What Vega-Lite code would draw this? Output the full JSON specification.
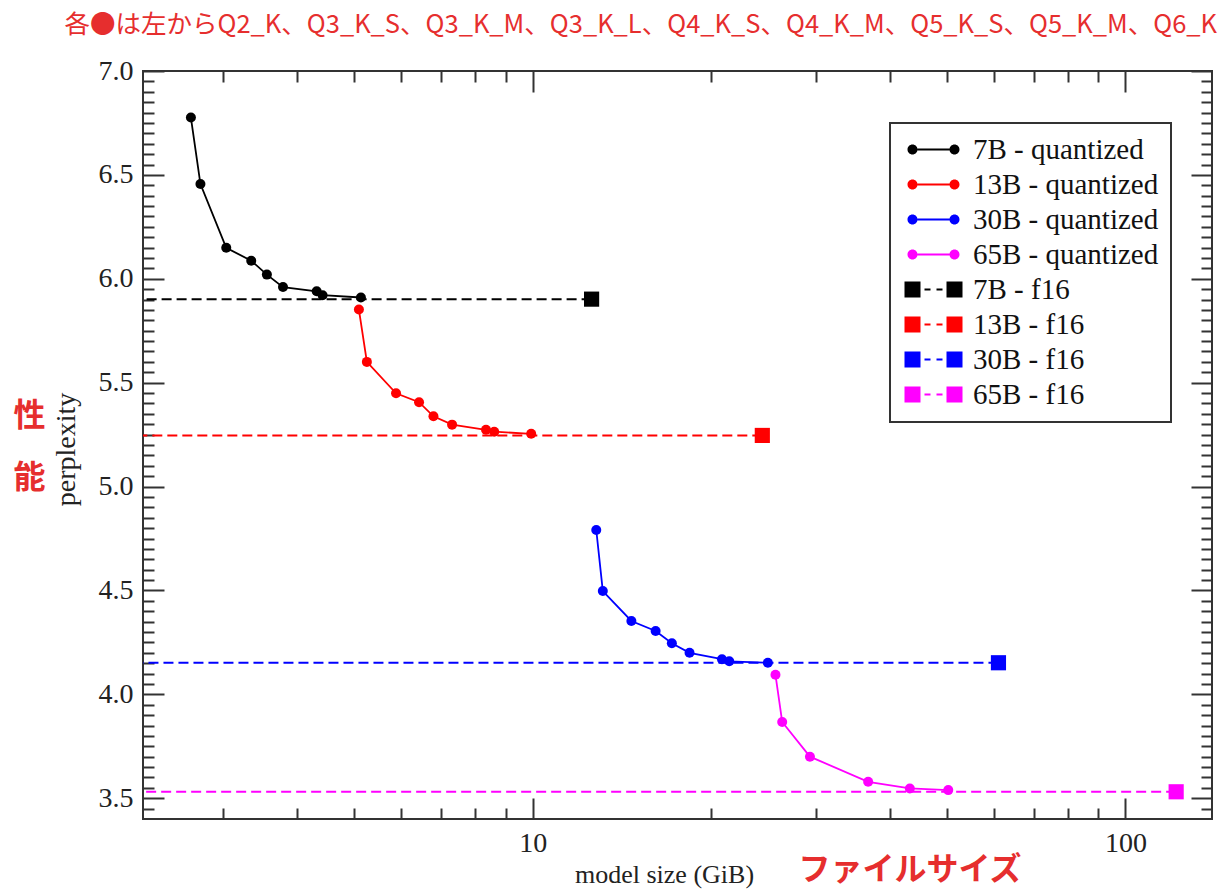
{
  "$schema": "https://vega.github.io/schema/vega-lite/v6.json",
  "width": 1069,
  "height": 748,
  "autosize": "none",
  "padding": {"left": 143, "top": 71, "right": 8, "bottom": 70},
  "background": "white",
  "config": {
    "view": {"stroke": "#333333", "strokeWidth": 2},
    "legend": {"strokeWidth": 2},
    "axis": {
      "domain": false,
      "grid": false,
      "tickColor": "#333333",
      "tickWidth": 2,
      "labelFont": "Liberation Serif",
      "labelFontSize": 28,
      "labelColor": "#222222",
      "labelFlush": false,
      "labelOverlap": false,
      "titleFont": "Liberation Serif",
      "titleFontWeight": "normal",
      "titleColor": "#222222"
    }
  },
  "data": {
    "values": [
      {"model": "7B", "label": "7B - quantized", "type": "quantized", "quant": "Q2_K", "size": 2.65, "ppl": 6.776},
      {"model": "7B", "label": "7B - quantized", "type": "quantized", "quant": "Q3_K_S", "size": 2.75, "ppl": 6.456},
      {"model": "7B", "label": "7B - quantized", "type": "quantized", "quant": "Q3_K_M", "size": 3.04, "ppl": 6.149},
      {"model": "7B", "label": "7B - quantized", "type": "quantized", "quant": "Q3_K_L", "size": 3.35, "ppl": 6.087},
      {"model": "7B", "label": "7B - quantized", "type": "quantized", "quant": "Q4_K_S", "size": 3.56, "ppl": 6.020},
      {"model": "7B", "label": "7B - quantized", "type": "quantized", "quant": "Q4_K_M", "size": 3.79, "ppl": 5.960},
      {"model": "7B", "label": "7B - quantized", "type": "quantized", "quant": "Q5_K_S", "size": 4.32, "ppl": 5.940},
      {"model": "7B", "label": "7B - quantized", "type": "quantized", "quant": "Q5_K_M", "size": 4.42, "ppl": 5.921},
      {"model": "7B", "label": "7B - quantized", "type": "quantized", "quant": "Q6_K", "size": 5.13, "ppl": 5.910},
      {"model": "13B", "label": "13B - quantized", "type": "quantized", "quant": "Q2_K", "size": 5.09, "ppl": 5.852},
      {"model": "13B", "label": "13B - quantized", "type": "quantized", "quant": "Q3_K_S", "size": 5.25, "ppl": 5.600},
      {"model": "13B", "label": "13B - quantized", "type": "quantized", "quant": "Q3_K_M", "size": 5.88, "ppl": 5.449},
      {"model": "13B", "label": "13B - quantized", "type": "quantized", "quant": "Q3_K_L", "size": 6.43, "ppl": 5.406},
      {"model": "13B", "label": "13B - quantized", "type": "quantized", "quant": "Q4_K_S", "size": 6.80, "ppl": 5.338},
      {"model": "13B", "label": "13B - quantized", "type": "quantized", "quant": "Q4_K_M", "size": 7.31, "ppl": 5.298},
      {"model": "13B", "label": "13B - quantized", "type": "quantized", "quant": "Q5_K_S", "size": 8.34, "ppl": 5.273},
      {"model": "13B", "label": "13B - quantized", "type": "quantized", "quant": "Q5_K_M", "size": 8.61, "ppl": 5.264},
      {"model": "13B", "label": "13B - quantized", "type": "quantized", "quant": "Q6_K", "size": 9.94, "ppl": 5.254},
      {"model": "30B", "label": "30B - quantized", "type": "quantized", "quant": "Q2_K", "size": 12.80, "ppl": 4.791},
      {"model": "30B", "label": "30B - quantized", "type": "quantized", "quant": "Q3_K_S", "size": 13.13, "ppl": 4.497},
      {"model": "30B", "label": "30B - quantized", "type": "quantized", "quant": "Q3_K_M", "size": 14.67, "ppl": 4.353},
      {"model": "30B", "label": "30B - quantized", "type": "quantized", "quant": "Q3_K_L", "size": 16.12, "ppl": 4.305},
      {"model": "30B", "label": "30B - quantized", "type": "quantized", "quant": "Q4_K_S", "size": 17.17, "ppl": 4.246},
      {"model": "30B", "label": "30B - quantized", "type": "quantized", "quant": "Q4_K_M", "size": 18.39, "ppl": 4.200},
      {"model": "30B", "label": "30B - quantized", "type": "quantized", "quant": "Q5_K_S", "size": 20.86, "ppl": 4.169},
      {"model": "30B", "label": "30B - quantized", "type": "quantized", "quant": "Q5_K_M", "size": 21.46, "ppl": 4.159},
      {"model": "30B", "label": "30B - quantized", "type": "quantized", "quant": "Q6_K", "size": 24.93, "ppl": 4.152},
      {"model": "65B", "label": "65B - quantized", "type": "quantized", "quant": "Q2_K", "size": 25.68, "ppl": 4.094},
      {"model": "65B", "label": "65B - quantized", "type": "quantized", "quant": "Q3_K_S", "size": 26.36, "ppl": 3.867},
      {"model": "65B", "label": "65B - quantized", "type": "quantized", "quant": "Q3_K_M", "size": 29.36, "ppl": 3.700},
      {"model": "65B", "label": "65B - quantized", "type": "quantized", "quant": "Q4_K_S", "size": 36.81, "ppl": 3.579},
      {"model": "65B", "label": "65B - quantized", "type": "quantized", "quant": "Q5_K_S", "size": 43.28, "ppl": 3.547},
      {"model": "65B", "label": "65B - quantized", "type": "quantized", "quant": "Q6_K", "size": 50.25, "ppl": 3.539},
      {"model": "7B", "label": "7B - f16", "type": "f16", "quant": "F16", "size": 12.57, "ppl": 5.902},
      {"model": "13B", "label": "13B - f16", "type": "f16", "quant": "F16", "size": 24.4, "ppl": 5.246},
      {"model": "30B", "label": "30B - f16", "type": "f16", "quant": "F16", "size": 61.07, "ppl": 4.152},
      {"model": "65B", "label": "65B - f16", "type": "f16", "quant": "F16", "size": 121.8, "ppl": 3.531}
    ]
  },
  "layer": [
    {
      "transform": [{"filter": "datum.type === 'f16'"}],
      "mark": {"type": "rule", "strokeDash": [10, 5], "strokeWidth": 2},
      "encoding": {
        "x": {
          "field": "size",
          "type": "quantitative",
          "scale": {"type": "log", "domain": [2.2, 140], "nice": false},
          "axis": {
            "orient": "bottom",
            "values": [10, 100],
            "format": "d",
            "tickSize": -21,
            "labelPadding": 31,
            "title": "model size (GiB)",
            "titleFontSize": 26,
            "titleX": 521,
            "titleY": 63,
            "titleAlign": "center",
            "titleBaseline": "alphabetic"
          }
        },
        "x2": {"datum": 2.2},
        "y": {
          "field": "ppl",
          "type": "quantitative",
          "scale": {"domain": [3.4, 7.0], "nice": false, "zero": false},
          "axis": {
            "orient": "left",
            "values": [3.5, 4.0, 4.5, 5.0, 5.5, 6.0, 6.5, 7.0],
            "format": ".1f",
            "tickSize": -21,
            "labelPadding": 31,
            "title": "perplexity",
            "titleFontSize": 28,
            "titleAngle": -90,
            "titleX": -69,
            "titleY": 378,
            "titleAlign": "center",
            "titleBaseline": "alphabetic"
          }
        },
        "color": {
          "field": "model",
          "type": "nominal",
          "scale": {
            "domain": ["7B", "13B", "30B", "65B"],
            "range": ["#000000", "#ff0000", "#0000ff", "#ff00ff"]
          },
          "legend": null
        }
      }
    },
    {
      "transform": [{"filter": "datum.type === 'quantized'"}],
      "mark": {"type": "line", "strokeWidth": 1.8},
      "encoding": {
        "x": {
          "field": "size",
          "type": "quantitative",
          "axis": {
            "orient": "bottom",
            "values": [3, 4, 5, 6, 7, 8, 9, 20, 30, 40, 50, 60, 70, 80, 90],
            "tickSize": -11,
            "labels": false,
            "title": "ファイルサイズ",
            "titleFont": "Noto Sans CJK JP",
            "titleFontSize": 32,
            "titleFontWeight": "bold",
            "titleColor": "#e62e2e",
            "titleX": 655,
            "titleY": 60,
            "titleAlign": "left",
            "titleBaseline": "alphabetic"
          }
        },
        "y": {
          "field": "ppl",
          "type": "quantitative",
          "axis": {
            "orient": "left",
            "values": [3.45,3.55,3.6,3.65,3.7,3.75,3.8,3.85,3.9,3.95,4.05,4.1,4.15,4.2,4.25,4.3,4.35,4.4,4.45,4.55,4.6,4.65,4.7,4.75,4.8,4.85,4.9,4.95,5.05,5.1,5.15,5.2,5.25,5.3,5.35,5.4,5.45,5.55,5.6,5.65,5.7,5.75,5.8,5.85,5.9,5.95,6.05,6.1,6.15,6.2,6.25,6.3,6.35,6.4,6.45,6.55,6.6,6.65,6.7,6.75,6.8,6.85,6.9,6.95],
            "tickSize": -11,
            "labels": false,
            "title": ["性", "能"],
            "titleFont": "Noto Sans CJK JP",
            "titleFontSize": 32,
            "titleFontWeight": "bold",
            "titleColor": "#e62e2e",
            "titleAngle": 0,
            "titleX": -114,
            "titleY": 344,
            "titleAlign": "center",
            "titleBaseline": "middle",
            "titleLineHeight": 62
          }
        },
        "color": {"field": "model", "type": "nominal", "legend": null},
        "order": {"field": "size", "type": "quantitative"}
      }
    },
    {
      "transform": [{"filter": "datum.type === 'quantized'"}],
      "mark": {"type": "point", "filled": true, "size": 100, "opacity": 1},
      "encoding": {
        "x": {"field": "size", "type": "quantitative", "axis": null},
        "y": {"field": "ppl", "type": "quantitative", "axis": null},
        "color": {"field": "model", "type": "nominal", "legend": null}
      }
    },
    {
      "transform": [{"filter": "datum.type === 'f16'"}],
      "mark": {"type": "point", "shape": "square", "filled": true, "size": 230, "opacity": 1},
      "encoding": {
        "x": {
          "field": "size",
          "type": "quantitative",
          "axis": {
            "orient": "top",
            "values": [10, 100],
            "tickSize": -21,
            "labels": false,
            "title": "各●は左からQ2_K、Q3_K_S、Q3_K_M、Q3_K_L、Q4_K_S、Q4_K_M、Q5_K_S、Q5_K_M、Q6_K",
            "titleFont": "Noto Sans CJK JP",
            "titleFontSize": 25.5,
            "titleFontWeight": "normal",
            "titleColor": "#e62e2e",
            "titleX": -79,
            "titleY": -39,
            "titleAlign": "left",
            "titleBaseline": "alphabetic",
            "titleLimit": 2000
          }
        },
        "y": {
          "field": "ppl",
          "type": "quantitative",
          "axis": {
            "orient": "right",
            "values": [3.5, 4.0, 4.5, 5.0, 5.5, 6.0, 6.5, 7.0],
            "tickSize": -21,
            "labels": false,
            "title": null
          }
        },
        "color": {"field": "model", "type": "nominal", "legend": null}
      }
    },
    {
      "mark": {"type": "point", "filled": true, "opacity": 0, "strokeWidth": 0},
      "encoding": {
        "x": {
          "field": "size",
          "type": "quantitative",
          "axis": {
            "orient": "top",
            "values": [3, 4, 5, 6, 7, 8, 9, 20, 30, 40, 50, 60, 70, 80, 90],
            "tickSize": -11,
            "labels": false,
            "title": null
          }
        },
        "y": {
          "field": "ppl",
          "type": "quantitative",
          "axis": {
            "orient": "right",
            "values": [3.45,3.55,3.6,3.65,3.7,3.75,3.8,3.85,3.9,3.95,4.05,4.1,4.15,4.2,4.25,4.3,4.35,4.4,4.45,4.55,4.6,4.65,4.7,4.75,4.8,4.85,4.9,4.95,5.05,5.1,5.15,5.2,5.25,5.3,5.35,5.4,5.45,5.55,5.6,5.65,5.7,5.75,5.8,5.85,5.9,5.95,6.05,6.1,6.15,6.2,6.25,6.3,6.35,6.4,6.45,6.55,6.6,6.65,6.7,6.75,6.8,6.85,6.9,6.95],
            "tickSize": -11,
            "labels": false,
            "title": null
          }
        },
        "fill": {
          "field": "label",
          "type": "nominal",
          "scale": {
            "domain": ["7B - quantized", "13B - quantized", "30B - quantized", "65B - quantized", "7B - f16", "13B - f16", "30B - f16", "65B - f16"],
            "range": ["#000000", "#ff0000", "#0000ff", "#ff00ff", "#000000", "#ff0000", "#0000ff", "#ff00ff"]
          },
          "legend": {
            "orient": "none",
            "legendX": 747,
            "legendY": 52,
            "title": null,
            "padding": 12,
            "strokeColor": "#333333",
            "fillColor": "white",
            "labelFont": "Liberation Serif",
            "labelFontSize": 29,
            "labelColor": "#111111",
            "labelLimit": 400,
            "symbolSize": 4,
            "symbolOffset": 17,
            "labelOffset": 25,
            "rowPadding": 5,
            "symbolStrokeWidth": 0,
            "symbolOpacity": 1
          }
        },
        "shape": {
          "field": "label",
          "type": "nominal",
          "scale": {
            "domain": ["7B - quantized", "13B - quantized", "30B - quantized", "65B - quantized", "7B - f16", "13B - f16", "30B - f16", "65B - f16"],
            "range": [
              "M-26,0A5,5 0 1,0 -16,0A5,5 0 1,0 -26,0Z M16,0A5,5 0 1,0 26,0A5,5 0 1,0 16,0Z M-16,-1H16V1H-16Z",
              "M-26,0A5,5 0 1,0 -16,0A5,5 0 1,0 -26,0Z M16,0A5,5 0 1,0 26,0A5,5 0 1,0 16,0Z M-16,-1H16V1H-16Z",
              "M-26,0A5,5 0 1,0 -16,0A5,5 0 1,0 -26,0Z M16,0A5,5 0 1,0 26,0A5,5 0 1,0 16,0Z M-16,-1H16V1H-16Z",
              "M-26,0A5,5 0 1,0 -16,0A5,5 0 1,0 -26,0Z M16,0A5,5 0 1,0 26,0A5,5 0 1,0 16,0Z M-16,-1H16V1H-16Z",
              "M-29,-8H-13V8H-29Z M13,-8H29V8H13Z M-9,-1H-3V1H-9Z M3,-1H9V1H3Z",
              "M-29,-8H-13V8H-29Z M13,-8H29V8H13Z M-9,-1H-3V1H-9Z M3,-1H9V1H3Z",
              "M-29,-8H-13V8H-29Z M13,-8H29V8H13Z M-9,-1H-3V1H-9Z M3,-1H9V1H3Z",
              "M-29,-8H-13V8H-29Z M13,-8H29V8H13Z M-9,-1H-3V1H-9Z M3,-1H9V1H3Z"
            ]
          },
          "legend": {
            "orient": "none",
            "legendX": 747,
            "legendY": 52,
            "title": null,
            "padding": 12,
            "strokeColor": "#333333",
            "fillColor": "white",
            "labelFont": "Liberation Serif",
            "labelFontSize": 29,
            "labelColor": "#111111",
            "labelLimit": 400,
            "symbolSize": 4,
            "symbolOffset": 17,
            "labelOffset": 25,
            "rowPadding": 5,
            "symbolStrokeWidth": 0,
            "symbolOpacity": 1
          }
        }
      }
    }
  ],
  "resolve": {"axis": {"x": "independent", "y": "independent"}}
}
